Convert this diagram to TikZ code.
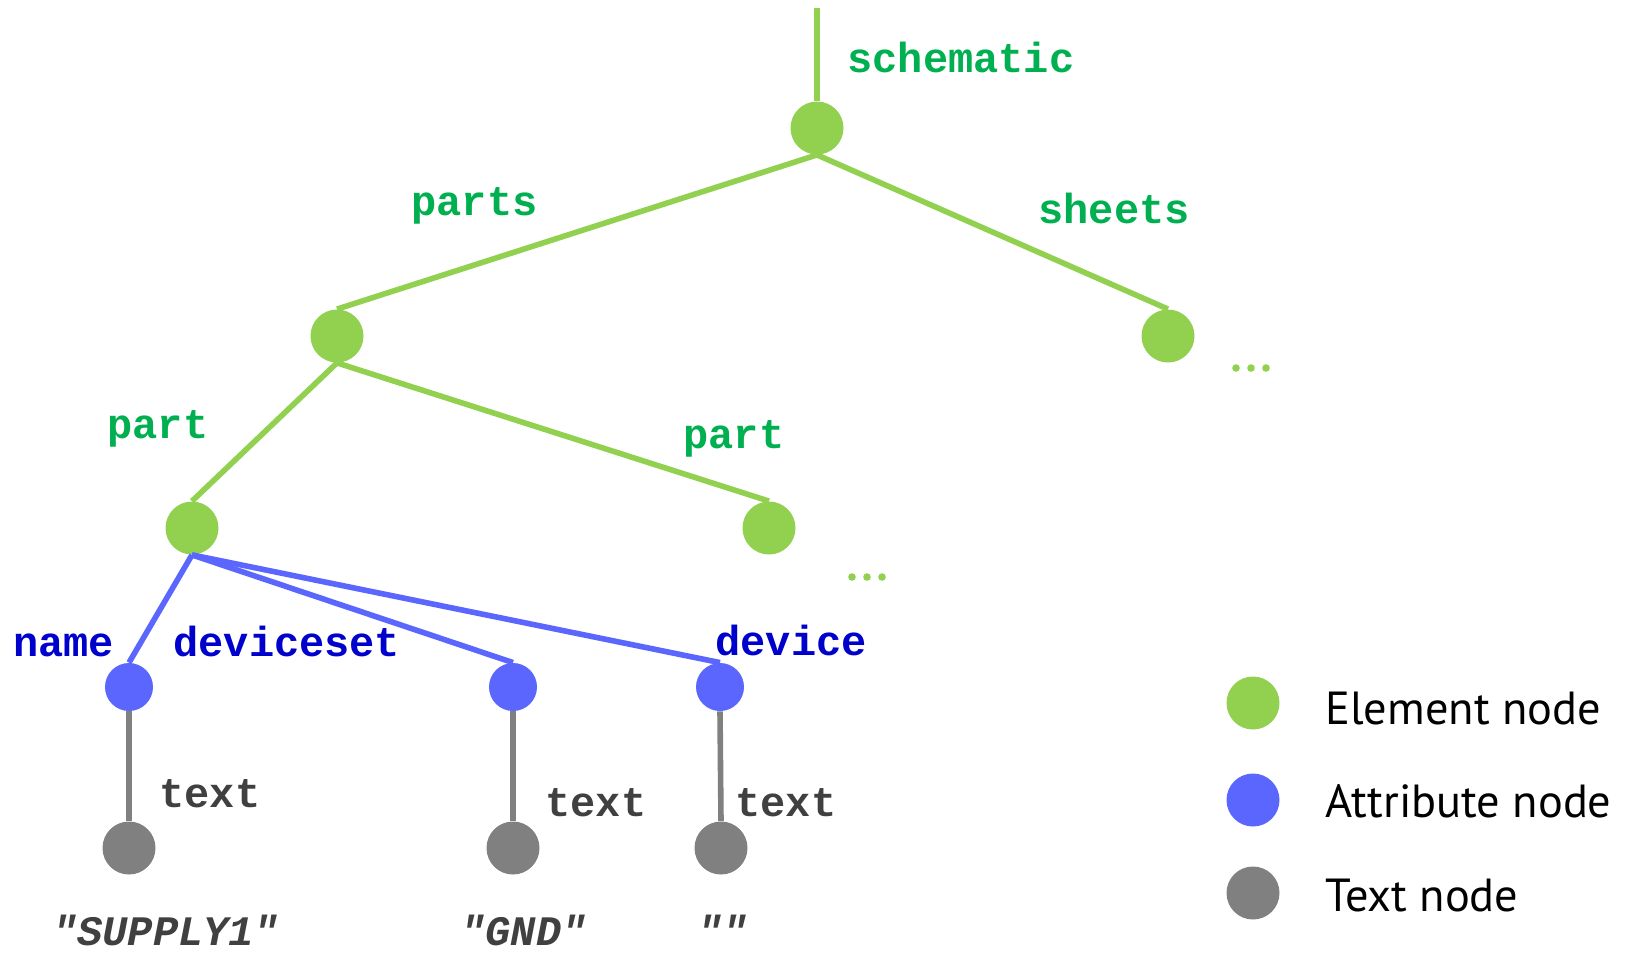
\documentclass[tikz,border=0pt]{standalone}
\usepackage{fontspec}
\setmainfont{PT Sans}
\setmonofont{Liberation Mono}
\usetikzlibrary{positioning}
\definecolor{elemgreen}{HTML}{92D050}
\definecolor{labelgreen}{HTML}{00B050}
\definecolor{attrblue}{HTML}{5B66FF}
\definecolor{labelblue}{HTML}{0000CC}
\definecolor{textgray}{HTML}{808080}
\definecolor{labelgray}{HTML}{404040}

\begin{document}
\begin{tikzpicture}[x=0.5pt,y=-0.5pt,
    elem/.style={circle,fill=elemgreen,inner sep=0pt,minimum size=26.5pt},
    attr/.style={circle,fill=attrblue,inner sep=0pt,minimum size=24pt},
    txt/.style={circle,fill=textgray,inner sep=0pt,minimum size=26.5pt},
    lbl/.style={anchor=base west,inner sep=0pt,font=\fontsize{21}{21}\selectfont\ttfamily\bfseries},
    legend/.style={anchor=base west,inner sep=0pt,font=\fontsize{23.2}{24}\selectfont},
    elemline/.style={elemgreen,line width=2.8pt},
    attrline/.style={attrblue,line width=2.8pt},
    txtline/.style={textgray,line width=2.8pt}]
    \useasboundingbox (0,0) rectangle (1640,955);

    % tree nodes
    \coordinate (top) at (817,8);
    \node[elem] (schematic) at (817,128) {};
    \node[elem] (parts) at (337,336) {};
    \node[elem] (sheets) at (1168,336) {};
    \node[elem] (part1) at (192,528) {};
    \node[elem] (part2) at (769,528) {};
    \node[attr] (name) at (129,687) {};
    \node[attr] (deviceset) at (513,687) {};
    \node[attr] (device) at (720,687) {};
    \node[txt] (text1) at (129,848) {};
    \node[txt] (text2) at (513,848) {};
    \node[txt] (text3) at (721,848) {};

    \draw[elemline] (top) -- (schematic.north);
    \draw[elemline] (schematic.south) -- (parts.north);
    \draw[elemline] (schematic.south) -- (sheets.north);
    \draw[elemline] (parts.south) -- (part1.north);
    \draw[elemline] (parts.south) -- (part2.north);
    \draw[attrline] (part1.south) -- (name.north);
    \draw[attrline] (part1.south) -- (deviceset.north);
    \draw[attrline] (part1.south) -- (device.north);
    \draw[txtline] (name.south) -- (text1.north);
    \draw[txtline] (deviceset.south) -- (text2.north);
    \draw[txtline] (device.south) -- (text3.north);

    \foreach \dx in {0,15,30}{
      \fill[elemgreen] (1236+\dx,368) circle (1.9pt);
      \fill[elemgreen] (852+\dx,577) circle (1.9pt);
    }

    % labels
    \node[lbl,labelgreen] (lschematic) at (847,72) {schematic};
    \node[lbl,labelgreen] (lparts) at (411,215) {parts};
    \node[lbl,labelgreen] (lsheets) at (1038,223) {sheets};
    \node[lbl,labelgreen] (lpart1) at (107,438) {part};
    \node[lbl,labelgreen] (lpart2) at (683,448) {part};
    \node[lbl,labelblue] (lname) at (13,656) {name};
    \node[lbl,labelblue] (ldeviceset) at (173,656) {deviceset};
    \node[lbl,labelblue] (ldevice) at (715,655) {device};
    \node[lbl,labelgray] (ltext1) at (159,807) {text};
    \node[lbl,labelgray] (ltext2) at (545,816) {text};
    \node[lbl,labelgray] (ltext3) at (735,816) {text};
    \node[lbl,labelgray] (vsupply) at (52,945) {\itshape "SUPPLY1"};
    \node[lbl,labelgray] (vgnd) at (460,945) {\itshape "GND"};
    \node[lbl,labelgray] (vempty) at (697,945) {\itshape ""};

    % legend
    \node[elem] (keyelem) at (1253,703) {};
    \node[attr,minimum size=26.5pt] (keyattr) at (1253,800) {};
    \node[txt] (keytxt) at (1253,893) {};
    \node[legend] (lkeyelem) at (1325,724) {Element node};
    \node[legend] (lkeyattr) at (1325,817) {Attribute node};
    \node[legend] (lkeytxt) at (1325,911) {Text node};
  \end{tikzpicture}
\end{document}
